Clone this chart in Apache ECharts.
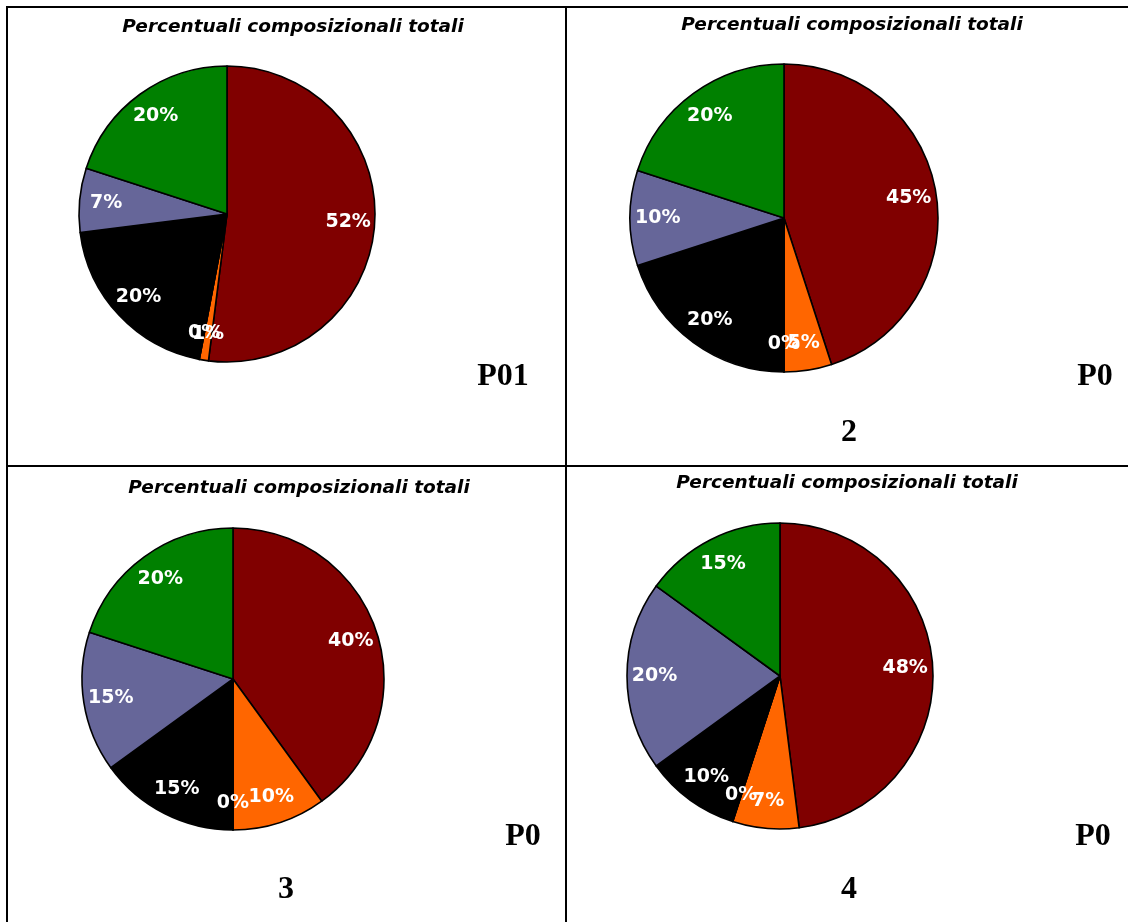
<!DOCTYPE html>
<html>
<head>
<meta charset="utf-8">
<title>Percentuali composizionali totali</title>
<script src="https://cdn.jsdelivr.net/npm/echarts@6/dist/echarts.min.js"></script>
<style>
  html, body { margin: 0; padding: 0; background: #ffffff; }
  #chart { width: 1128px; height: 922px; }
</style>
</head>
<body>
<div id="chart"></div>
<script>
// Composition categories (clockwise from 12 o'clock)
const categories = ['Componente A', 'Componente B', 'Componente C', 'Componente D', 'Componente E', 'Componente F'];
const sliceColors = ['#800000', '#FF6600', '#FFCC00', '#000000', '#666699', '#008000'];

// Percentages per sample
const valuesP01 = [52, 1, 0, 20, 7, 20];
const valuesP02 = [45, 5, 0, 20, 10, 20];
const valuesP03 = [40, 10, 0, 15, 15, 20];
const valuesP04 = [48, 7, 0, 10, 20, 15];

const chartTitle = 'Percentuali composizionali totali';

// Layout of the four cells
const panels = [
  { values: valuesP01, center: [227, 214], r: 148, title: [293, 27], codeA: { text: 'P01', x: 503, y: 377 }, codeB: null },
  { values: valuesP02, center: [784, 218], r: 154, title: [852, 25], codeA: { text: 'P0', x: 1095, y: 377 }, codeB: { text: '2', x: 849, y: 433 } },
  { values: valuesP03, center: [233, 679], r: 151, title: [299, 488], codeA: { text: 'P0', x: 523, y: 837 }, codeB: { text: '3', x: 286, y: 890 } },
  { values: valuesP04, center: [780, 676], r: 153, title: [847, 483], codeA: { text: 'P0', x: 1093, y: 837 }, codeB: { text: '4', x: 849, y: 890 } }
];

function buildData(values) {
  return values.map((v, i) => ({ name: categories[i], value: v, itemStyle: { color: sliceColors[i] } }));
}

const series = [];
const graphic = [];

panels.forEach(p => {
  // filled pie
  series.push({
    type: 'pie',
    center: p.center,
    radius: [0, p.r],
    startAngle: 90,
    clockwise: true,
    silent: true,
    animation: false,
    label: { show: false },
    labelLine: { show: false },
    itemStyle: { borderColor: '#000000', borderWidth: 1.6 },
    data: buildData(p.values)
  });
  // ring carrying the percentage labels near the rim
  series.push({
    type: 'pie',
    center: p.center,
    radius: [p.r * 0.6, p.r],
    startAngle: 90,
    clockwise: true,
    silent: true,
    animation: false,
    stillShowZeroSum: true,
    minShowLabelAngle: 0,
    itemStyle: { color: 'rgba(0,0,0,0)', borderWidth: 0 },
    label: {
      show: true,
      position: 'inside',
      formatter: '{c}%',
      color: '#ffffff',
      fontFamily: 'DejaVu Sans',
      fontWeight: 'bold',
      fontSize: 19
    },
    labelLayout: { hideOverlap: false },
    labelLine: { show: false },
    data: p.values.map((v, i) => ({ name: categories[i], value: v }))
  });

  graphic.push({
    type: 'text',
    style: {
      x: p.title[0], y: p.title[1], text: chartTitle,
      align: 'center', verticalAlign: 'middle',
      fontFamily: 'DejaVu Sans', fontWeight: 'bold', fontStyle: 'italic', fontSize: 18.5,
      fill: '#000000'
    }
  });
  [p.codeA, p.codeB].forEach(c => {
    if (!c) return;
    graphic.push({
      type: 'text',
      style: {
        x: c.x, y: c.y, text: c.text,
        align: 'center', verticalAlign: 'middle',
        fontFamily: 'Liberation Serif', fontWeight: 'bold', fontSize: 32,
        fill: '#000000'
      }
    });
  });
});

// Table grid lines
const gridLines = [
  [6, 7, 1128, 7],
  [6, 466, 1128, 466],
  [7, 6, 7, 922],
  [566, 6, 566, 922]
];
gridLines.forEach(l => {
  graphic.push({
    type: 'line',
    shape: { x1: l[0], y1: l[1], x2: l[2], y2: l[3] },
    style: { stroke: '#000000', lineWidth: 2 }
  });
});

const chart = echarts.init(document.getElementById('chart'), null, { renderer: 'canvas' });
chart.setOption({
  backgroundColor: '#ffffff',
  animation: false,
  series: series,
  graphic: graphic
});
</script>
</body>
</html>
